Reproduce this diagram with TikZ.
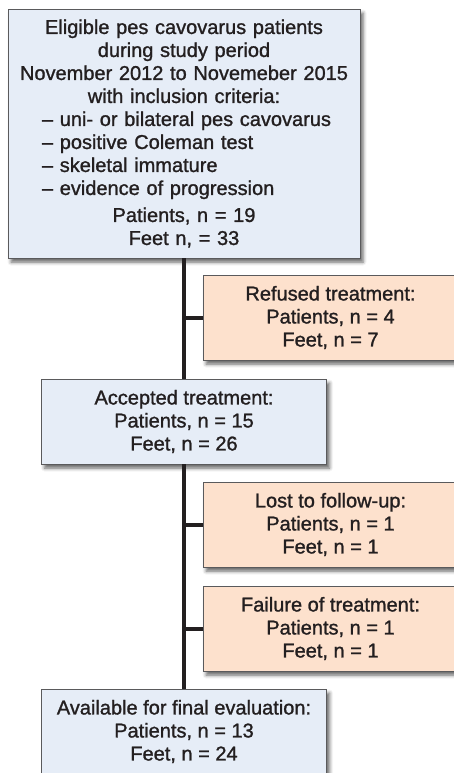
\documentclass[tikz,border=0pt]{standalone}
\usepackage{fontspec}
\setmainfont[FakeBold=1.2]{Liberation Sans}
\usetikzlibrary{shadows.blur}
\definecolor{boxblue}{HTML}{E6EDF7}
\definecolor{boxorange}{HTML}{FDE1CD}
\definecolor{edgegray}{HTML}{5A5A5C}
\definecolor{ink}{HTML}{231F20}
\tikzset{
  flowbox/.style={draw=edgegray, line width=0.9pt, text=ink,
    font=\fontsize{20pt}{23pt}\selectfont, inner sep=0pt, align=center,
    blur shadow={shadow xshift=3pt, shadow yshift=-4pt, shadow blur radius=3.5pt, shadow opacity=60}},
  bluebox/.style={flowbox, fill=boxblue},
  orangebox/.style={flowbox, fill=boxorange, minimum width=255pt, minimum height=85pt},
  midbox/.style={bluebox, minimum width=285pt, minimum height=85pt},
  conn/.style={draw=ink, line width=4pt}
}
\begin{document}
\begin{tikzpicture}[x=1pt, y=-1pt]
\useasboundingbox (0,0) rectangle (454,773);
\node[bluebox, minimum width=352pt, minimum height=249pt, text width=352pt] (elig) at (184,133.5)
{Eligible pes cavovarus patients\\during study period\\November 2012 to Novemeber 2015\\with inclusion criteria:\par
{\raggedright\leftskip=34pt – uni- or bilateral pes cavovarus\\– positive Coleman test\\– skeletal immature\\– evidence of progression\par}
\vspace{4pt}Patients, n = 19\\Feet n, = 33};
\node[orangebox] (refused) at (330.5,317.5) {Refused treatment:\\Patients, n = 4\\Feet, n = 7};
\node[midbox] (accepted) at (184,421.5) {Accepted treatment:\\Patients, n = 15\\Feet, n = 26};
\node[orangebox] (lost) at (330.5,524.5) {Lost to follow-up:\\Patients, n = 1\\Feet, n = 1};
\node[orangebox] (failure) at (330.5,628.5) {Failure of treatment:\\Patients, n = 1\\Feet, n = 1};
\node[midbox] (final) at (184,731.5) {Available for final evaluation:\\Patients, n = 13\\Feet, n = 24};
\draw[conn] (elig.south) -- (accepted.north);
\draw[conn] (accepted.south) -- (final.north);
\draw[conn] (refused.west) -- (refused.west -| elig.south);
\draw[conn] (lost.west) -- (lost.west -| elig.south);
\draw[conn] (failure.west) -- (failure.west -| elig.south);
\end{tikzpicture}
\end{document}
